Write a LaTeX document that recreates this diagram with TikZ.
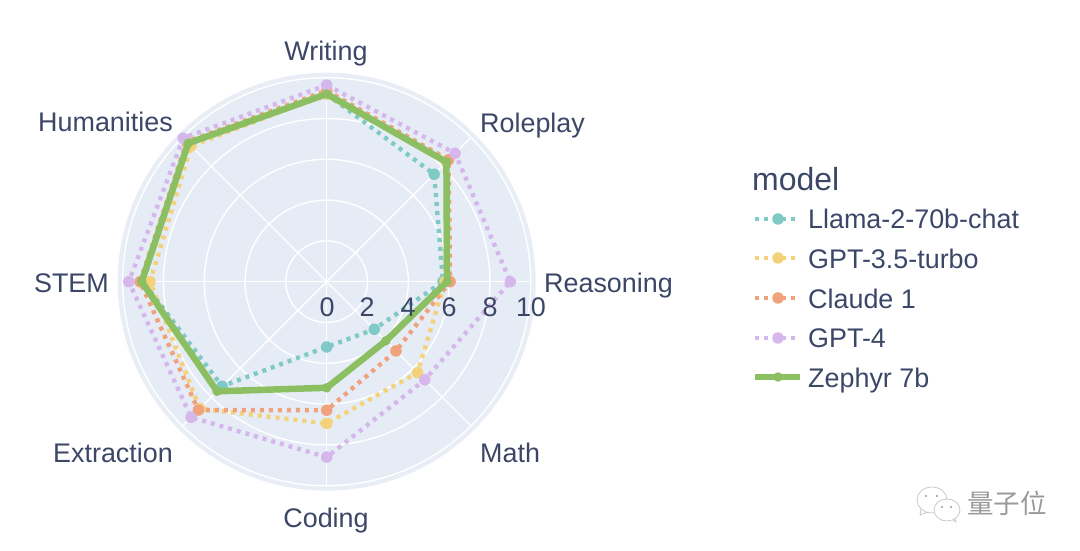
\documentclass[tikz,border=0pt]{standalone}
\usepackage{fontspec}
\setmainfont{Liberation Sans}
\newfontfamily\cjk{Noto Sans CJK SC}
\definecolor{inkblue}{HTML}{3C4768}
\definecolor{polarbg}{HTML}{E5ECF6}
\definecolor{polarrim}{HTML}{E9EDF5}
\definecolor{llamacol}{HTML}{7FC9C6}
\definecolor{gptthreecol}{HTML}{F4D27C}
\definecolor{claudecol}{HTML}{EFA27B}
\definecolor{gptfourcol}{HTML}{D5B7EC}
\definecolor{zephyrcol}{HTML}{8CBF62}
\definecolor{markgray}{HTML}{9A9A9A}
\tikzset{
  label/.style={text=inkblue,font=\fontsize{26.9}{28}\selectfont,inner sep=0pt},
  dotline/.style={line width=4.4pt,dash pattern=on 4pt off 5pt},
  zline/.style={line width=6.5pt,line join=round},
  marker/.style={circle,inner sep=0pt,minimum size=#1},
  marker/.default=11.5pt
}
% one trace: name, colour, line style, values from Writing clockwise
\newcommand{\trace}[4]{
  \foreach \v [count=\i] in {#4}
    \coordinate (#1-\i) at ({90-(\i-1)*45}:{\v*20.4});
  \draw[#3,draw=#2] (#1-1) -- (#1-2) -- (#1-3) -- (#1-4) -- (#1-5) -- (#1-6) -- (#1-7) -- (#1-8) -- cycle;
  \foreach \i in {1,...,8}
    \node[marker,fill=#2] at (#1-\i) {};
}
\newcommand{\legendrow}[5]{
  \coordinate (#1a) at (755,#4);
  \coordinate (#1b) at (#5,#4);
  \draw[#3,draw=#2] (#1a) -- (#1b);
  \node[marker,fill=#2] (#1m) at (778,#4) {};
}

\begin{document}
\begin{tikzpicture}[x=1pt,y=1pt]
  \useasboundingbox (0,0) rectangle (1080,551);
  \begin{scope}[shift={(326.7,269.3)}]
    \fill[polarrim] (0,0) circle (209);
    \fill[polarbg] (0,0) circle (204);
    \foreach \r in {2,4,6,8,10}
      \draw[white,line width=1.4pt] (0,0) circle ({\r*20.4});
    \foreach \a in {0,45,...,315}
      \draw[white,line width=1.4pt] (0,0) -- (\a:204);
    \trace{llama}{llamacol}{dotline}{9.2,7.45,5.7,3.3,3.2,7.25,9.0,9.6}
    \trace{gptthree}{gptthreecol}{dotline}{9.2,8.3,5.8,6.3,6.95,8.8,8.66,9.4}
    \trace{claude}{claudecol}{dotline}{9.36,8.45,6.05,4.8,6.3,8.9,9.15,9.7}
    \trace{gptfour}{gptfourcol}{dotline}{9.64,8.9,9.0,6.8,8.6,9.4,9.7,9.95}
    \tikzset{marker/.default=9.5pt}
    \trace{zephyr}{zephyrcol}{zline}{9.2,8.3,5.9,4.1,5.2,7.6,9.07,9.6}
  \end{scope}
  % axis labels
  \node[label,anchor=base] (writing) at (326,490) {Writing};
  \node[label,anchor=base west] (roleplay) at (480,418) {Roleplay};
  \node[label,anchor=base west] (reasoning) at (544,258) {Reasoning};
  \node[label,anchor=base west] (math) at (480,88) {Math};
  \node[label,anchor=base] (coding) at (326,23) {Coding};
  \node[label,anchor=base east] (extraction) at (173,88) {Extraction};
  \node[label,anchor=base east] (stem) at (109,258) {STEM};
  \node[label,anchor=base east] (humanities) at (173,419) {Humanities};
  % radial ticks
  \foreach \t/\x in {0/327,2/367,4/408,6/449,8/490,10/531}
    \node[label,anchor=base] (tick\t) at (\x,234.5) {\t};
  % legend
  \node[label,anchor=base west,font=\fontsize{32}{34}\selectfont] (legendtitle) at (752,360) {model};
  \legendrow{legllama}{llamacol}{dotline}{332}{797}
  \legendrow{leggptthree}{gptthreecol}{dotline}{293}{797}
  \legendrow{legclaude}{claudecol}{dotline}{253}{797}
  \legendrow{leggptfour}{gptfourcol}{dotline}{213}{797}
  \tikzset{marker/.default=9.5pt}
  \legendrow{legzephyr}{zephyrcol}{zline}{174}{800}
  \node[label,anchor=base west] (namellama) at (808,322) {Llama-2-70b-chat};
  \node[label,anchor=base west] (namegptthree) at (808,282) {GPT-3.5-turbo};
  \node[label,anchor=base west] (nameclaude) at (808,242) {Claude 1};
  \node[label,anchor=base west] (namegptfour) at (808,203) {GPT-4};
  \node[label,anchor=base west] (namezephyr) at (808,163) {Zephyr 7b};
  % watermark
  \draw[markgray!60,line width=0.7pt,fill=white] (932,51) ellipse (15 and 13)
    (921,42) -- (920,36) -- (928,39);
  \draw[markgray!60,line width=0.7pt,fill=white] (947,41) ellipse (13 and 11)
    (953,31) -- (956,29) -- (955,33);
  \fill[markgray] (926,55) circle (1.2) (937,55) circle (1.2) (942,44) circle (1.1) (951,44) circle (1.1);
  \node[inner sep=0pt,anchor=base west,text=markgray,font=\cjk\fontsize{26.5}{28}\selectfont] (brand) at (967,37) {量子位};
\end{tikzpicture}
\end{document}
